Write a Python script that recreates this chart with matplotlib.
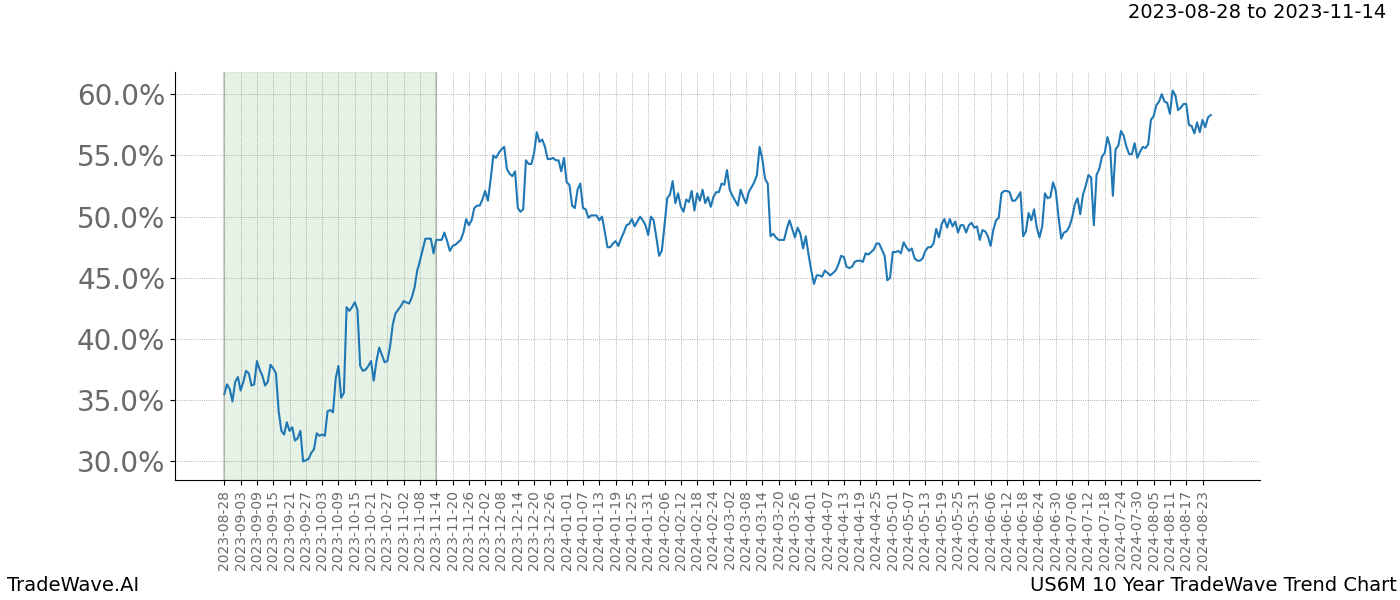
import numpy as np
import pandas as pd
import matplotlib
matplotlib.use("Agg")
import matplotlib.pyplot as plt
from matplotlib.ticker import FuncFormatter

# daily trend values (%), starting 2023-08-28 (no Feb 29 in the series)
start_date = "2023-08-28"
highlight_start = "2023-08-28"
highlight_end = "2023-11-14"
title_text = "2023-08-28 to 2023-11-14"
chart_name = "US6M 10 Year TradeWave Trend Chart"

trend_pct = [
    35.5, 36.3, 35.9, 34.9, 36.5, 36.9, 35.8, 36.5, 37.4, 37.2,
    36.2, 36.3, 38.2, 37.5, 37.0, 36.2, 36.5, 37.9, 37.6, 37.2,
    34.1, 32.5, 32.2, 33.2, 32.5, 32.8, 31.7, 31.9, 32.5, 30.0,
    30.1, 30.2, 30.7, 31.0, 32.3, 32.1, 32.2, 32.1, 34.1, 34.2,
    34.0, 36.8, 37.8, 35.2, 35.6, 42.6, 42.3, 42.6, 43.0, 42.4,
    37.8, 37.4, 37.5, 37.8, 38.2, 36.6, 38.2, 39.3, 38.7, 38.1,
    38.2, 39.4, 41.2, 42.1, 42.4, 42.7, 43.1, 43.0, 42.9, 43.4,
    44.2, 45.6, 46.4, 47.3, 48.2, 48.2, 48.2, 47.0, 48.1, 48.1,
    48.1, 48.7, 48.0, 47.2, 47.6, 47.7, 47.9, 48.1, 48.7, 49.8,
    49.3, 49.7, 50.7, 50.9, 50.9, 51.4, 52.1, 51.3, 53.0, 55.0,
    54.8, 55.2, 55.5, 55.7, 53.9, 53.5, 53.3, 53.7, 50.7, 50.4,
    50.6, 54.6, 54.3, 54.3, 55.2, 56.9, 56.1, 56.3, 55.7, 54.7,
    54.7, 54.8, 54.6, 54.6, 53.7, 54.8, 52.8, 52.6, 50.9, 50.7,
    52.2, 52.7, 50.7, 50.6, 49.9, 50.1, 50.1, 50.1, 49.7, 50.0,
    48.8, 47.5, 47.5, 47.8, 48.0, 47.6, 48.2, 48.7, 49.3, 49.4,
    49.8, 49.2, 49.6, 50.0, 49.7, 49.3, 48.5, 50.0, 49.7, 48.3,
    46.8, 47.2, 49.3, 51.5, 51.8, 52.9, 51.1, 51.9, 50.8, 50.4,
    51.4, 51.2, 52.1, 50.5, 51.9, 51.3, 52.2, 51.1, 51.6, 50.8,
    51.6, 52.0, 52.0, 52.7, 52.6, 53.8, 52.2, 51.7, 51.3, 50.9,
    52.2, 51.6, 51.1, 52.0, 52.4, 52.8, 53.4, 55.7, 54.7, 53.1,
    52.7, 48.4, 48.6, 48.3, 48.1, 48.1, 48.1, 49.0, 49.7, 49.0,
    48.3, 49.1, 48.6, 47.4, 48.4, 46.9, 45.6, 44.5, 45.2, 45.2,
    45.1, 45.6, 45.4, 45.2, 45.4, 45.6, 46.1, 46.8, 46.7, 45.9,
    45.8, 45.9, 46.3, 46.4, 46.4, 46.3, 47.0, 46.9, 47.1, 47.3,
    47.8, 47.8, 47.3, 46.8, 44.8, 45.0, 47.1, 47.1, 47.2, 47.0,
    47.9, 47.5, 47.2, 47.4, 46.6, 46.4, 46.4, 46.6, 47.2, 47.5,
    47.5, 47.8, 49.0, 48.3, 49.4, 49.8, 49.1, 49.8, 49.2, 49.6,
    48.7, 49.3, 49.3, 48.7, 49.3, 49.5, 49.1, 49.2, 48.1, 48.9,
    48.8, 48.4, 47.6, 48.9, 49.7, 49.9, 51.9, 52.1, 52.1, 52.0,
    51.3, 51.3, 51.6, 52.0, 48.4, 48.8, 50.3, 49.7, 50.6, 49.1,
    48.3, 49.2, 51.9, 51.5, 51.6, 52.8, 52.1, 50.0, 48.2, 48.7,
    48.8, 49.2, 49.9, 51.0, 51.5, 50.2, 51.8, 52.5, 53.4, 53.2,
    49.3, 53.4, 53.9, 54.9, 55.2, 56.5, 55.7, 51.7, 55.5, 55.8,
    57.0, 56.6, 55.7, 55.1, 55.1, 56.0, 54.8, 55.3, 55.7, 55.6,
    55.9, 57.9, 58.2, 59.1, 59.4, 60.0, 59.4, 59.3, 58.4, 60.3,
    59.9, 58.7, 58.9, 59.2, 59.2, 57.5, 57.4, 56.8, 57.7, 56.9,
    57.9, 57.3, 58.1, 58.3,
]

# calendar dates, leap day skipped
dates = pd.date_range(start_date, periods=len(trend_pct) + 1, freq="D")
dates = dates[~((dates.month == 2) & (dates.day == 29))][:len(trend_pct)]
labels = list(dates.strftime("%Y-%m-%d"))
x = np.arange(len(trend_pct))

fig, ax = plt.subplots(figsize=(14, 6), dpi=100)
fig.subplots_adjust(left=0.125, right=0.9, top=0.88, bottom=0.2)

ax.plot(x, trend_pct, color="#1f77b4", lw=1.5)

i0 = labels.index(highlight_start)
i1 = labels.index(highlight_end)
ax.axvspan(i0, i1, color="green", alpha=0.1)
ax.axvline(i0, color="gray", alpha=0.3, lw=1.5)
ax.axvline(i1, color="gray", alpha=0.3, lw=1.5)

ax.set_xticks(x[::6])
ax.set_xticklabels(labels[::6], rotation=90, fontsize=10, color="dimgray")
ax.yaxis.set_major_formatter(FuncFormatter(lambda v, p: "{:.1f}%".format(v)))
ax.tick_params(axis="y", labelsize=20, labelcolor="dimgray")

ax.grid(True, linestyle=":", color="gray", lw=0.6, alpha=0.8)
ax.spines["top"].set_visible(False)
ax.spines["right"].set_visible(False)

fig.text(0.99, 0.995, title_text, ha="right", va="top", fontsize=14)
fig.text(0.005, 0.008, "TradeWave.AI", ha="left", va="bottom", fontsize=14)
fig.text(0.998, 0.008, chart_name, ha="right", va="bottom", fontsize=14)

fig.savefig("out.png", dpi=100)
